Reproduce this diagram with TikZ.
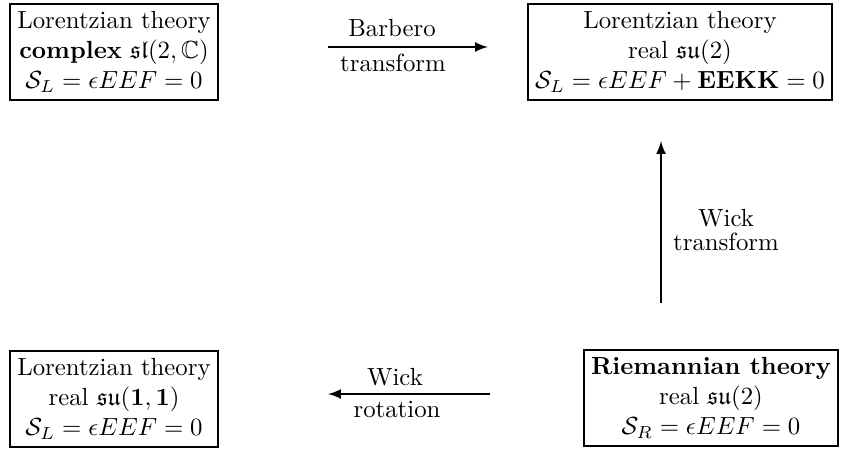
\documentclass[tikz,border=0pt]{standalone}
\usepackage{amsmath,amssymb}
\usetikzlibrary{arrows}
\begin{document}
\begin{tikzpicture}[x=0.4032pt,y=-0.4032pt,
  box/.style={draw,line width=0.8pt,align=center,inner sep=3pt},
  lbl/.style={inner sep=0pt,anchor=base},
  conn/.style={line width=0.8pt,-latex}]
\useasboundingbox (0,0) rectangle (841,450);
\node[box] (tl) at (114,52) {Lorentzian theory\\ \textbf{complex} $\mathfrak{sl}(2,\mathbb{C})$\\ $\mathcal{S}_L=\epsilon EEF=0$};
\node[box] (tr) at (680,52) {Lorentzian theory\\ real $\mathfrak{su}(2)$\\ $\mathcal{S}_L=\epsilon EEF+\mathbf{EEKK}=0$};
\node[box] (bl) at (114,399) {Lorentzian theory\\ real $\mathfrak{su}\mathbf{(1,1)}$\\ $\mathcal{S}_L=\epsilon EEF=0$};
\node[box] (br) at (711,398) {\textbf{Riemannian theory}\\ real $\mathfrak{su}(2)$\\ $\mathcal{S}_R=\epsilon EEF=0$};
\coordinate (a1s) at (328,47);
\coordinate (a1e) at (488,47);
\coordinate (a2s) at (490,394);
\coordinate (a2e) at (328,394);
\coordinate (a3s) at (661,303);
\coordinate (a3e) at (661,141);
\draw[conn] (a1s) -- (a1e);
\draw[conn] (a2s) -- (a2e);
\draw[conn] (a3s) -- (a3e);
\node[lbl] (l1a) at (392,37) {Barbero};
\node[lbl] (l1b) at (393,72) {transform};
\node[lbl] (l2a) at (395,385) {Wick};
\node[lbl] (l2b) at (397,417) {rotation};
\node[lbl] (l3a) at (726,226) {Wick};
\node[lbl] (l3b) at (726,250) {transform};
\end{tikzpicture}
\end{document}
